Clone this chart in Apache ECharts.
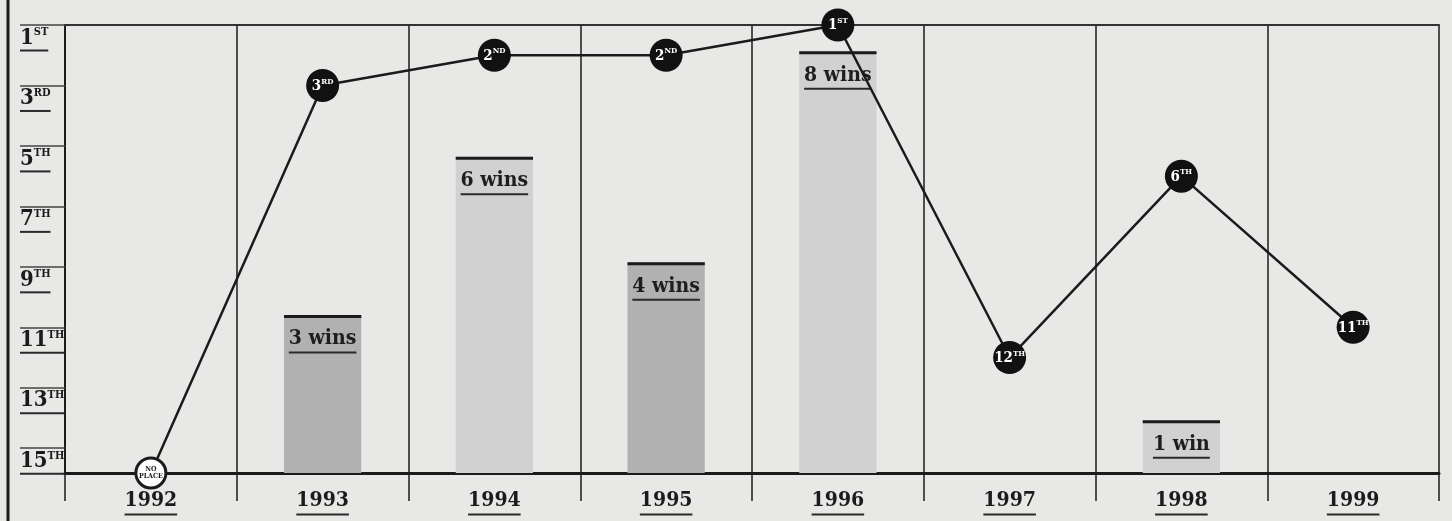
<!DOCTYPE html>
<html><head><meta charset="utf-8">
<script src="https://cdn.jsdelivr.net/npm/echarts@6/dist/echarts.min.js"></script>
<style>html,body{margin:0;padding:0;background:#e8e8e7}#c{width:1452px;height:521px}</style>
</head><body><div id="c"></div>
<script>
// ---- data ----
const years = ['1992', '1993', '1994', '1995', '1996', '1997', '1998', '1999'];
const finishPlace = [null, 3, 2, 2, 1, 12, 6, 11];   // null = no place
const wins = [null, 3, 6, 4, 8, null, 1, null];
const barShade = ['light', 'dark', 'light', 'dark', 'light', 'light', 'light', 'light'];
const noPlaceRank = 15.82;   // where "no place" sits (bottom of the scale)
const ordinalSuffix = { 1: 'ST', 2: 'ND', 3: 'RD' };

const FONT = '"DejaVu Serif Condensed","DejaVu Serif",serif';
const INK = '#1b1b1b';
const shadeColor = { light: '#d0d1d0', dark: '#b0b1b0' };

function suffix(n) {
  if (n % 100 >= 11 && n % 100 <= 13) return 'TH';
  return ordinalSuffix[n % 10] || 'TH';
}

const chart = echarts.init(document.getElementById('c'), null, { renderer: 'canvas' });

const lineData = finishPlace.map(function (r) {
  if (r == null) {
    return {
      value: noPlaceRank - 1,
      symbolSize: 30,
      itemStyle: { color: '#ffffff', borderColor: INK, borderWidth: 3 },
      label: {
        formatter: '{p|NO}\n{p|PLACE}',
        rich: { p: { fontSize: 7, fontWeight: 'bold', color: INK, fontFamily: FONT, lineHeight: 7, align: 'center' } }
      }
    };
  }
  return r - 1;
});

const barData = wins.map(function (w, i) {
  return { value: w, itemStyle: { color: shadeColor[barShade[i]] } };
});

const underline = { width: '100%', height: 2, lineHeight: 3, fontSize: 2, backgroundColor: '#2a2a2a', align: 'left' };

const option = {
  backgroundColor: '#e8e8e7',
  animation: false,
  graphic: [{
    type: 'line', shape: { x1: 8, y1: 0, x2: 8, y2: 521 },
    style: { stroke: INK, lineWidth: 3 }
  }],
  grid: { left: 65, right: 13, top: 25, bottom: 48, containLabel: false },
  xAxis: [{
    type: 'category', data: years, boundaryGap: true, position: 'bottom',
    axisLine: { show: true, onZero: false, lineStyle: { color: INK, width: 3 } },
    axisTick: { show: true, length: 28, interval: 0, lineStyle: { color: INK, width: 1.5 } },
    splitLine: { show: true, interval: 0, lineStyle: { color: INK, width: 1.5 } },
    axisLabel: {
      interval: 0, margin: 16,
      formatter: function (v) { return '{y|' + v + '}\n{u| }'; },
      rich: {
        y: { fontSize: 21, fontWeight: 'bold', color: INK, fontFamily: FONT, lineHeight: 24 },
        u: underline
      }
    }
  }, {
    type: 'category', data: years, position: 'top',
    axisLine: { show: true, onZero: false, lineStyle: { color: '#333', width: 2 } },
    axisTick: { show: false }, axisLabel: { show: false }, splitLine: { show: false }
  }],
  yAxis: [{
    type: 'value', inverse: true, min: 0, max: noPlaceRank - 1, interval: 2,
    axisLine: { show: true, onZero: false, lineStyle: { color: INK, width: 2 } },
    axisTick: { show: true, length: 45, lineStyle: { color: '#444', width: 1.5 } },
    splitLine: { show: false },
    axisLabel: {
      align: 'left', margin: 45, verticalAlign: 'top', padding: [2, 0, 0, 0],
      showMaxLabel: false,
      formatter: function (v) {
        if (Math.abs(v - Math.round(v)) > 1e-6) return '';
        const r = Math.round(v) + 1;
        return '{n|' + r + '}{s|' + suffix(r) + '}\n{u| }';
      },
      rich: {
        n: { fontSize: 22, fontWeight: 'bold', color: INK, fontFamily: FONT, lineHeight: 22, verticalAlign: 'bottom' },
        s: { fontSize: 11, fontWeight: 'bold', color: INK, fontFamily: FONT, lineHeight: 22, verticalAlign: 'top', padding: [0, 0, 8, 0] },
        u: underline
      }
    }
  }, {
    type: 'value', min: 0, max: 8.5, show: false
  }],
  series: [{
    type: 'bar', xAxisIndex: 0, yAxisIndex: 1, data: barData, barWidth: '45%', z: 2,
    label: {
      show: true, position: 'insideTop', distance: 12,
      formatter: function (p) {
        if (p.value == null) return '';
        return '{t|' + (p.value === 1 ? '1 win' : p.value + ' wins') + '}\n{u| }';
      },
      rich: {
        t: { fontSize: 21, fontWeight: 'bold', color: '#1e1e1e', fontFamily: FONT, lineHeight: 24 },
        u: underline
      }
    }
  }, {
    type: 'pictorialBar', xAxisIndex: 0, yAxisIndex: 1, data: wins, barWidth: '45%', z: 3,
    symbol: 'rect', symbolSize: ['100%', 3], symbolPosition: 'end', symbolOffset: [0, 0],
    itemStyle: { color: INK }
  }, {
    type: 'line', xAxisIndex: 0, yAxisIndex: 0, data: lineData, z: 5,
    symbol: 'circle', symbolSize: 33,
    lineStyle: { color: INK, width: 2.5 },
    itemStyle: { color: '#111' },
    label: {
      show: true, position: 'inside',
      formatter: function (p) {
        const r = finishPlace[p.dataIndex];
        return '{n|' + r + '}{s|' + suffix(r) + '}';
      },
      rich: {
        n: { fontSize: 15, fontWeight: 'bold', color: '#fff', fontFamily: FONT, lineHeight: 16, verticalAlign: 'bottom' },
        s: { fontSize: 8, fontWeight: 'bold', color: '#fff', fontFamily: FONT, lineHeight: 16, verticalAlign: 'top', padding: [0, 0, 6, 0] }
      }
    }
  }]
};
chart.setOption(option);
</script>
</body></html>
